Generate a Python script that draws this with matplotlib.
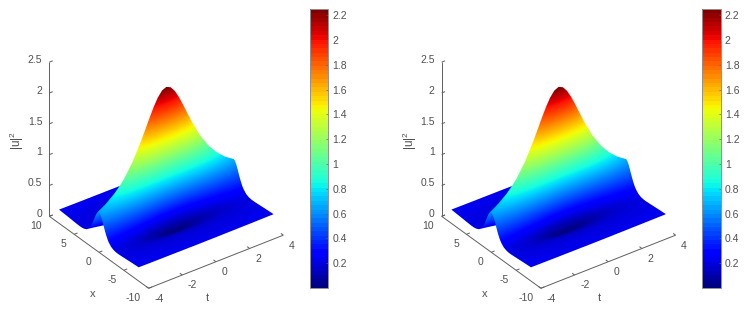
#!/usr/bin/env python3
"""Two identical |u|^2 surfaces with colorbars, MATLAB look."""
import numpy as np
import matplotlib
matplotlib.use("Agg")
import matplotlib.pyplot as plt
from matplotlib.tri import Triangulation
from matplotlib.colors import Normalize
from matplotlib.cm import ScalarMappable
from mpl_toolkits.mplot3d import proj3d

plt.rcParams["font.family"] = ["Liberation Sans", "DejaVu Sans"]

W, H = 748, 316
SS = 6  # surfaces go through a bigger canvas so the strip edges average out
GREY = "#5f5f5f"
TEXT = "#505050"

# surface looks symmetric in both x and t so only one quadrant kept
x_half = [0, .25, .5, .75, 1, 1.25, 1.5, 1.75, 2, 2.5, 3, 3.5, 4, 5, 6, 8]
t_half = [0, .25, .5, .75, 1, 1.5, 2, 2.5, 3, 3.5, 4]
z_t00 = [2.25, 1.911, 1.21, .608, .25, .079, .013, 0, .01, .05, .09, .122, .146, .179, .199, .22]
z_t02 = [2.219, 1.89, 1.206, .614, .258, .085, .019, .004, .013, .052, .091, .122, .146, .179, .199, .22]
z_t05 = [2.132, 1.83, 1.193, .629, .279, .105, .034, .015, .021, .056, .093, .124, .147, .18, .199, .22]
z_t07 = [2.003, 1.74, 1.171, .649, .311, .135, .057, .033, .034, .063, .097, .126, .149, .18, .199, .22]
z_t10 = [1.85, 1.629, 1.139, .669, .349, .171, .087, .055, .05, .072, .103, .129, .151, .181, .2, .221]
z_t15 = [1.53, 1.386, 1.049, .693, .421, .25, .155, .11, .092, .096, .117, .138, .156, .184, .201, .221]
z_t20 = [1.25, 1.161, .941, .688, .472, .319, .222, .167, .139, .125, .134, .149, .164, .187, .203, .222]
z_t25 = [1.031, .976, .835, .66, .496, .368, .277, .218, .183, .155, .154, .162, .172, .191, .205, .222]
z_t30 = [.865, .831, .74, .62, .499, .396, .316, .259, .221, .184, .173, .175, .181, .196, .207, .223]
z_t35 = [.742, .72, .66, .577, .489, .408, .341, .289, .252, .209, .192, .188, .191, .2, .21, .224]
z_t40 = [.65, .635, .595, .537, .472, .41, .355, .31, .275, .23, .209, .201, .2, .206, .213, .225]

x_ticks = [-10, -5, 0, 5, 10]
t_ticks = [-4, -2, 0, 2, 4]
z_ticks = [0, .5, 1, 1.5, 2, 2.5]
z_labels = ["0", "0.5", "1", "1.5", "2", "2.5"]
cb_ticks = [.2, .4, .6, .8, 1, 1.2, 1.4, 1.6, 1.8, 2, 2.2]
cb_labels = ["0.2", "0.4", "0.6", "0.8", "1", "1.2", "1.4", "1.6", "1.8", "2", "2.2"]

# mirror the quadrant out to the full grid
quad = np.array([z_t00, z_t02, z_t05, z_t07, z_t10, z_t15, z_t20, z_t25, z_t30, z_t35, z_t40])
x_grid = np.r_[-np.array(x_half[:0:-1]), x_half]
t_grid = np.r_[-np.array(t_half[:0:-1]), t_half]
Z = np.vstack([quad[:0:-1], quad])
Z = np.hstack([Z[:, :0:-1], Z])

X2, T2 = np.meshgrid(x_grid, t_grid)
ni, nj = Z.shape

# triangles for one strip between two neighbouring x columns
strip_tris = []
for i in range(ni - 1):
    strip_tris.append((2 * i, 2 * i + 1, 2 * i + 3))
    strip_tris.append((2 * i, 2 * i + 3, 2 * i + 2))
strip_tris = np.array(strip_tris, dtype=np.int32)

cmap = plt.get_cmap("jet", 64)
surf_cmap = plt.get_cmap("jet", 256)
levels = np.linspace(Z.min() - 1e-3, Z.max() + 1e-3, 129)

fig = plt.figure(figsize=(W / 100, H / 100), dpi=100)
base = fig.add_axes([0, 0, 1, 1], zorder=-1)
base.axis("off")
over = fig.add_axes([0, 0, 1, 1], zorder=5)
over.set_xlim(0, W)
over.set_ylim(H, 0)
over.axis("off")

hi = plt.figure(figsize=(W / 100, H / 100), dpi=100 * SS)
hax = hi.add_axes([0, 0, 1, 1])
hax.set_xlim(0, W)
hax.set_ylim(H, 0)
hax.axis("off")


def panel(dx):
    ax3 = fig.add_axes([(17.4 + dx) / W, 18.4 / H, 290 / W, 290 / H], projection="3d", proj_type="ortho")
    ax3.set_xlim(-4, 4, view_margin=0)
    ax3.set_ylim(-10, 10, view_margin=0)
    ax3.set_zlim(0, 2.5, view_margin=0)
    ax3.set_box_aspect((1, 1, 1.09))
    ax3.view_init(elev=32.3, azim=-126.4)
    ax3.set_axis_off()
    ax3.patch.set_visible(False)
    ax3.apply_aspect()
    M = ax3.get_proj()

    def to_px(t, x, z):
        px, py, _ = proj3d.proj_transform(np.ravel(t), np.ravel(x), np.ravel(z), M)
        disp = ax3.transData.transform(np.c_[px, py])
        return disp[:, 0], H - disp[:, 1]

    # back to front along x, each strip paints over what it hides
    for j in range(nj - 2, -1, -1):
        sx, sy = to_px(T2[:, j:j + 2], X2[:, j:j + 2], Z[:, j:j + 2])
        tri = Triangulation(sx, sy, strip_tris)
        hax.tricontourf(tri, Z[:, j:j + 2].ravel(), levels=levels, cmap=surf_cmap,
                        norm=Normalize(Z.min(), Z.max()), antialiased=False)

    def seg(t, x, z):
        u, v = to_px(t, x, z)
        over.plot(u, v, color=GREY, lw=0.7, solid_capstyle="butt")

    seg([-4, -4], [-10, 10], [0, 0])
    seg([-4, 4], [-10, -10], [0, 0])
    seg([-4, -4], [10, 10], [0, 2.5])
    for v in x_ticks:
        seg([-4, -3.8], [v, v], [0, 0])
        u0, v0 = to_px(-4, v, 0)
        over.text(u0[0] - 7.5, v0[0] + 10, str(v), ha="right", va="center", fontsize=7.5, color=TEXT)
    for v in t_ticks:
        seg([v, v], [-10, -9.5], [0, 0])
        u0, v0 = to_px(v, -10, 0)
        over.text(u0[0] + 5.5, v0[0] + 10.5, str(v), ha="left", va="center", fontsize=7.5, color=TEXT)
    for v, lab in zip(z_ticks, z_labels):
        seg([-4, -3.8], [10, 10], [v, v])
        u0, v0 = to_px(-4, 10, v)
        over.text(u0[0] - 7, v0[0] - 2.3, lab, ha="right", va="center", fontsize=7.5, color=TEXT)

    over.text(17.3 + dx, 141, r"$\mathregular{|u|^2}$", rotation=90, ha="center", va="center", fontsize=8.5, color=TEXT)
    over.text(92.3 + dx, 294, "x", ha="center", va="center", fontsize=8, color=TEXT)
    over.text(207.3 + dx, 298, "t", ha="center", va="center", fontsize=8, color=TEXT)

    cax = fig.add_axes([(310 + dx) / W, (H - 288) / H, 18.3 / W, 279 / H])
    cb = fig.colorbar(ScalarMappable(norm=Normalize(Z.min(), Z.max()), cmap=cmap), cax=cax)
    cb.set_ticks(cb_ticks, labels=cb_labels)
    cb.ax.tick_params(direction="in", length=1.5, width=0.5, colors=GREY, labelsize=7.5, labelcolor=TEXT, pad=3)
    cb.outline.set_edgecolor("#909090")
    cb.outline.set_linewidth(0.7)


panel(0)
panel(392.3)

# bring the big canvas back down to the figure's own pixels
hi.canvas.draw()
buf = np.asarray(hi.canvas.buffer_rgba())[:, :, :3].astype(float)
small = buf.reshape(H, SS, W, SS, 3).mean(axis=(1, 3)) / 255
base.imshow(small, extent=(0, W, H, 0), interpolation="nearest", aspect="auto")
base.axis("off")

fig.savefig("out.png", dpi=100)
